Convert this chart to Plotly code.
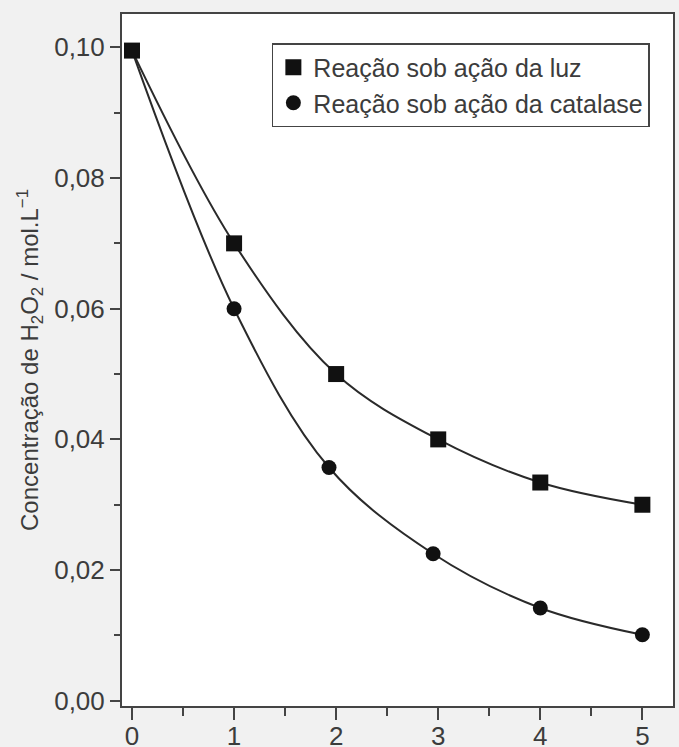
import plotly.graph_objects as go

tempo_luz = [0, 1, 2, 3, 4, 5]
conc_luz = [0.0995, 0.070, 0.050, 0.040, 0.0334, 0.030]
tempo_cat = [0, 1, 1.93, 2.95, 4, 5]
conc_cat = [0.0995, 0.060, 0.0357, 0.0225, 0.0142, 0.0101]

nome_luz = "Reação sob ação da luz"
nome_cat = "Reação sob ação da catalase"
y_title = "Concentração de H<sub>2</sub>O<sub>2</sub> / mol.L<sup>−1</sup>"

x_ticks = [0, 1, 2, 3, 4, 5]
y_ticks = [0.00, 0.02, 0.04, 0.06, 0.08, 0.10]

FONT = "Liberation Sans, Arial, Helvetica"
TXT = "#3c3c3c"

fig = go.Figure()
line_style = dict(color="#2a2a2a", width=2, shape="spline", smoothing=1.0)
fig.add_trace(go.Scatter(x=tempo_luz, y=conc_luz, mode="lines", line=line_style, showlegend=False, hoverinfo="skip"))
fig.add_trace(go.Scatter(x=tempo_cat, y=conc_cat, mode="lines", line=line_style, showlegend=False, hoverinfo="skip"))
fig.add_trace(go.Scatter(x=tempo_luz, y=conc_luz, mode="markers", name=nome_luz,
                         marker=dict(symbol="square", size=16, color="#111111")))
fig.add_trace(go.Scatter(x=tempo_cat, y=conc_cat, mode="markers", name=nome_cat,
                         marker=dict(symbol="circle", size=15, color="#111111")))

axis_common = dict(showline=True, linecolor="#444444", linewidth=2, mirror=True,
                   showgrid=False, zeroline=False, ticks="outside", tickcolor="#444444",
                   tickwidth=1.5, automargin=False,
                   tickfont=dict(family=FONT, size=26, color=TXT))

fig.update_xaxes(range=[-0.098, 5.30], tickvals=x_ticks, ticklen=12, ticklabelstandoff=-6,
                 minor=dict(dtick=0.5, ticklen=8, ticks="outside", tickcolor="#444444", tickwidth=1.5),
                 **axis_common)
fig.update_yaxes(range=[-0.0008, 0.1051], tickvals=y_ticks, tickformat=".2f", ticklen=10,
                 minor=dict(dtick=0.01, ticklen=6, ticks="outside", tickcolor="#444444", tickwidth=1.5),
                 title=dict(text=y_title, font=dict(family=FONT, size=24, color=TXT), standoff=9),
                 **axis_common)

fig.update_layout(
    width=679, height=747,
    margin=dict(l=122, r=6, t=14, b=41),
    paper_bgcolor="#f1f1f1", plot_bgcolor="#ffffff",
    separators=",.",
    legend=dict(x=0.272, y=0.958, xanchor="left", yanchor="top",
                bgcolor="rgba(255,255,255,0)", bordercolor="#444444", borderwidth=1.5,
                font=dict(family=FONT, size=25, color=TXT),
                itemwidth=30, tracegroupgap=0),
)

fig.write_html("out.html", config={"displayModeBar": False},
               post_script="document.body.style.margin='0';")
